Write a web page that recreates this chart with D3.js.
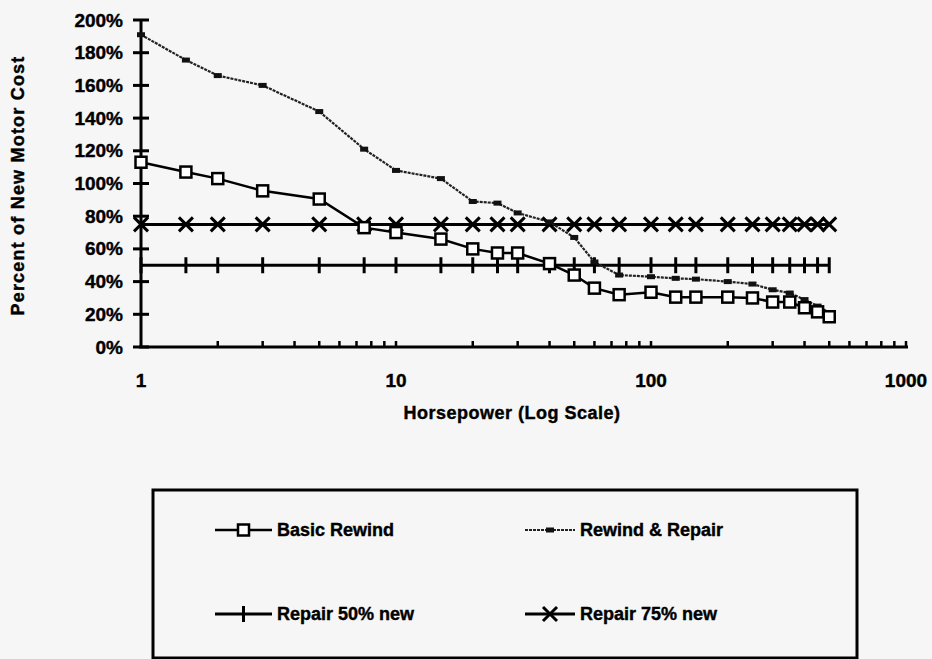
<!DOCTYPE html>
<html>
<head>
<meta charset="utf-8">
<script src="https://cdn.jsdelivr.net/npm/d3@7"></script>
<style>
  html, body { margin: 0; padding: 0; background: #f6f6f6; }
  svg { display: block; }
  text { font-family: "Liberation Sans", Arial, sans-serif; font-weight: bold; fill: #000; stroke: #000; stroke-width: 0.4px; }
</style>
</head>
<body>
<svg id="chart" width="932" height="659"></svg>
<script>
// horsepower sizes (x) and % of new motor cost (y)
const hp = [1, 1.5, 2, 3, 5, 7.5, 10, 15, 20, 25, 30, 40, 50, 60, 75, 100, 125, 150, 200, 250, 300, 350, 400, 450, 500];
const basicRewind = [113, 107, 103, 95.5, 90.5, 73, 70, 66, 60, 57.5, 57.5, 51, 44, 36, 32, 33.5, 30.5, 30.5, 30.5, 30, 27.5, 27.5, 24, 21.5, 18.5];
const rewindRepair = [191, 175.5, 166, 160, 144, 121, 108, 103, 89, 88, 82, 76.5, 67, 52, 44, 43, 42, 41.5, 40, 38.5, 35, 33, 29, 25, 21];
const repair50 = [50, 50, 50, 50, 50, 50, 50, 50, 50, 50, 50, 50, 50, 50, 50, 50, 50, 50, 50, 50, 50, 50, 50, 50, 50];
const repair75 = [75, 75, 75, 75, 75, 75, 75, 75, 75, 75, 75, 75, 75, 75, 75, 75, 75, 75, 75, 75, 75, 75, 75, 75, 75];

const yTicks = [0, 20, 40, 60, 80, 100, 120, 140, 160, 180, 200];
const xLabels = [1, 10, 100, 1000];
const seriesNames = ['Basic Rewind', 'Rewind & Repair', 'Repair 50% new', 'Repair 75% new'];

const svg = d3.select('#chart');

// SCALES
const x = d3.scaleLog().domain([1, 1000]).range([141, 906]);
const y = d3.scaleLinear().domain([0, 200]).range([347, 20]);

const g = svg.append('g');

// Y AXIS
const yAxis = d3.axisLeft(y).tickValues(yTicks).tickFormat(d => d + '%').tickSize(0).tickPadding(18);
const yAxisGroup = g.append('g').attr('transform', `translate(${x(1)},0)`).call(yAxis);
yAxisGroup.select('.domain').remove();
yAxisGroup.selectAll('text').style('font-size', '19px').attr('font-family', null).attr('fill', null);
yAxisGroup.append('line')
  .attr('x1', 0).attr('x2', 0).attr('y1', y(200)).attr('y2', y(0))
  .attr('stroke', '#000').attr('stroke-width', 3);
yAxisGroup.selectAll('.crossTick').data(yTicks).enter().append('line')
  .attr('class', 'crossTick')
  .attr('x1', -8).attr('x2', 8)
  .attr('y1', d => y(d)).attr('y2', d => y(d))
  .attr('stroke', '#000').attr('stroke-width', 3);

// X AXIS (log, small ticks pointing up)
const minorTicks = x.ticks().filter(d => d > 1);
const xAxisGroup = g.append('g').attr('transform', `translate(0,${y(0)})`);
xAxisGroup.append('line')
  .attr('x1', x(1) - 2).attr('x2', x(1000) + 2)
  .attr('stroke', '#000').attr('stroke-width', 3);
xAxisGroup.selectAll('.minor').data(minorTicks).enter().append('line')
  .attr('class', 'minor')
  .attr('x1', d => x(d)).attr('x2', d => x(d))
  .attr('y1', 0).attr('y2', -6)
  .attr('stroke', '#000').attr('stroke-width', 2.5);
xAxisGroup.selectAll('.xl').data(xLabels).enter().append('text')
  .attr('class', 'xl')
  .attr('x', d => x(d)).attr('y', 40)
  .attr('text-anchor', 'middle')
  .style('font-size', '19px')
  .text(d => d);

// AXIS TITLES
svg.append('text')
  .attr('transform', `translate(24,${(y(0) + y(200)) / 2 + 2}) rotate(-90)`)
  .attr('text-anchor', 'middle')
  .style('font-size', '18px')
  .style('letter-spacing', '1.2px')
  .text('Percent of New Motor Cost');
svg.append('text')
  .attr('x', 512).attr('y', 419)
  .attr('text-anchor', 'middle')
  .style('font-size', '18px')
  .style('letter-spacing', '0.5px')
  .text('Horsepower (Log Scale)');

// LINES
const line = vals => d3.line().x((d, i) => x(hp[i])).y(d => y(d))(vals);

g.append('path').attr('d', line(repair50)).attr('fill', 'none').attr('stroke', '#000').attr('stroke-width', 3);
g.append('path').attr('d', line(repair75)).attr('fill', 'none').attr('stroke', '#000').attr('stroke-width', 3);
g.append('path').attr('d', line(rewindRepair)).attr('fill', 'none')
  .attr('stroke', '#222').attr('stroke-width', 2.2).attr('stroke-dasharray', '3,1');
g.append('path').attr('d', line(basicRewind)).attr('fill', 'none').attr('stroke', '#000').attr('stroke-width', 2.5);

// MARKERS
function plusMarker(sel) {
  sel.append('line').attr('x1', 0).attr('x2', 0).attr('y1', -8).attr('y2', 8)
    .attr('stroke', '#000').attr('stroke-width', 3);
}
function xMarker(sel) {
  sel.append('path').attr('d', 'M-7,-7L7,7M-7,7L7,-7')
    .attr('stroke', '#000').attr('stroke-width', 3).attr('fill', 'none');
}
function squareMarker(sel) {
  sel.append('rect').attr('x', -5.5).attr('y', -5.5).attr('width', 11).attr('height', 11)
    .attr('fill', '#fff').attr('stroke', '#000').attr('stroke-width', 2.5);
}
function dashMarker(sel) {
  sel.append('rect').attr('x', -4).attr('y', -2.5).attr('width', 8).attr('height', 5).attr('fill', '#111');
}

function drawMarkers(vals, fn) {
  g.append('g').selectAll('g').data(vals).enter().append('g')
    .attr('transform', (d, i) => `translate(${x(hp[i])},${y(d)})`)
    .each(function () { fn(d3.select(this)); });
}
drawMarkers(repair50, plusMarker);
drawMarkers(repair75, xMarker);
drawMarkers(rewindRepair, dashMarker);
drawMarkers(basicRewind, squareMarker);

// LEGEND
const legend = svg.append('g');
legend.append('rect')
  .attr('x', 153).attr('y', 490).attr('width', 704).attr('height', 168)
  .attr('fill', 'none').attr('stroke', '#000').attr('stroke-width', 3);

const legendItems = [
  { name: seriesNames[0], lx: 215, ly: 530, fn: squareMarker, dash: null, w: 2.5, c: '#000' },
  { name: seriesNames[1], lx: 525, ly: 530, fn: dashMarker, dash: '3,1', w: 2.2, c: '#222' },
  { name: seriesNames[2], lx: 215, ly: 614, fn: plusMarker, dash: null, w: 3, c: '#000' },
  { name: seriesNames[3], lx: 525, ly: 614, fn: xMarker, dash: null, w: 3, c: '#000' }
];
legendItems.forEach(it => {
  const len = it.lx === 215 ? 57 : 50;
  const item = legend.append('g').attr('transform', `translate(${it.lx},${it.ly})`);
  item.append('line').attr('x1', 0).attr('x2', len)
    .attr('stroke', it.c).attr('stroke-width', it.w).attr('stroke-dasharray', it.dash);
  const m = item.append('g').attr('transform', `translate(${len / 2},0)`);
  it.fn(m);
  item.append('text').attr('x', len + 5).attr('dy', '0.35em')
    .style('font-size', '18px')
    .text(it.name);
});
</script>
</body>
</html>
